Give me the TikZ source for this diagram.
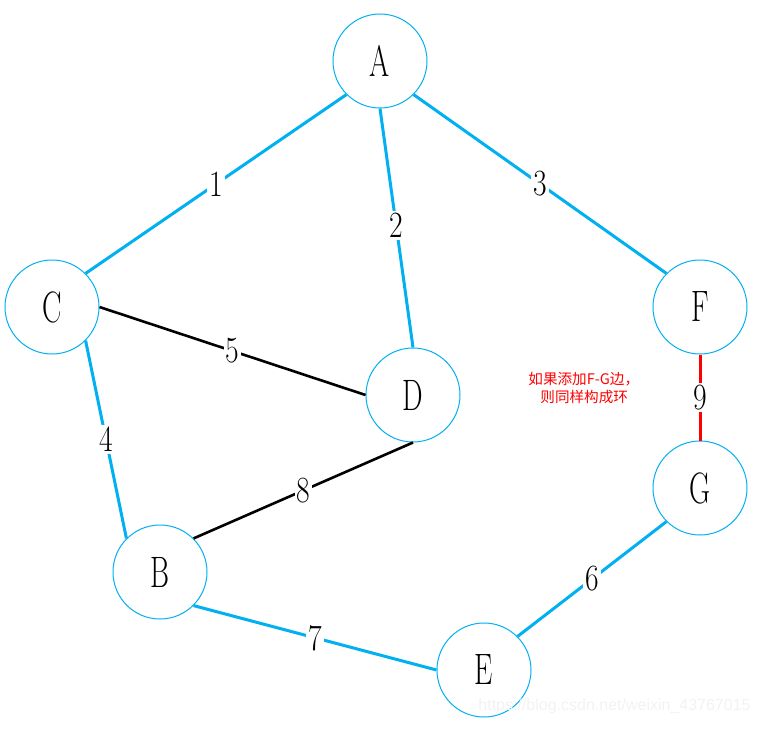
\documentclass[tikz,border=0pt]{standalone}
\usepackage{fontspec}
\usepackage{tikz}
\usepackage{xcolor}
\newfontfamily\cjk{Noto Sans CJK SC}
\newfontfamily\markfont{Liberation Sans}
\definecolor{edgeblue}{RGB}{0,176,240}
\newcommand{\narrow}[1]{\scalebox{0.66}[1]{#1}}
\newcommand{\narrownum}[1]{\scalebox{0.8}[1]{#1}}
\tikzstyle{vertex} = [
    circle, draw=edgeblue, line width=0.5pt, minimum size=47pt, inner sep=0pt,
    fill=white, font=\fontsize{22}{22}\selectfont
]
\tikzstyle{tree-edge} = [edgeblue, line width=1.5pt]
\tikzstyle{other-edge} = [black, line width=1.3pt]
\tikzstyle{loop-edge} = [red, line width=1.5pt]
\tikzstyle{weight} = [fill=white, text=black, inner sep=1pt,
    font=\fontsize{18.5}{18.5}\selectfont]

\begin{document}
\begin{tikzpicture}[x=0.5pt, y=-0.5pt]
            \useasboundingbox (0,0) rectangle (760,728);

            \node (A) [vertex] at (380,61) {\narrow{A}};
            \node (C) [vertex] at (52,307) {\narrow{C}};
            \node (D) [vertex] at (413,395) {\narrow{D}};
            \node (F) [vertex] at (700,307) {\narrow{F}};
            \node (G) [vertex] at (700,488) {\narrow{G}};
            \node (B) [vertex] at (160,572) {\narrow{B}};
            \node (E) [vertex] at (484,670) {\narrow{E}};

            \draw [tree-edge] (A.south west) -- (C.north east)
                            node[weight, pos=0.5] {\narrownum{1}};
            \draw [tree-edge] (A.south) -- (D.north)
                            node[weight, pos=0.49] {\narrownum{2}};
            \draw [tree-edge] (A.south east) -- (F.north west)
                            node[weight, pos=0.5] {\narrownum{3}};
            \draw [tree-edge] (C.south east) -- (B.north west)
                            node[weight, pos=0.5] {\narrownum{4}};
            \draw [other-edge] (C.east) -- (D.west)
                            node[weight, pos=0.5] {\narrownum{5}};
            \draw [tree-edge] (G.south west) -- (E.north east)
                            node[weight, pos=0.5] {\narrownum{6}};
            \draw [tree-edge] (B.south east) -- (E.west)
                            node[weight, pos=0.5] {\narrownum{7}};
            \draw [other-edge] (D.south) -- (B.north east)
                            node[weight, pos=0.5] {\narrownum{8}};
            \draw [loop-edge] (F.south) -- (G.north)
                            node[weight, pos=0.5] {\narrownum{9}};

            \node (note) [anchor=west, align=left, text=red, inner sep=0pt,
                font=\cjk\fontsize{7.3}{9}\selectfont] at (528,388)
                {如果添加F-G边，\\\hspace{6pt}则同样构成环};

            \node (mark) [anchor=east, inner sep=0pt, text=gray!10,
                font=\markfont\fontsize{8}{8}\selectfont] at (751,706)
                {https://blog.csdn.net/weixin\_43767015};
        \end{tikzpicture}
\end{document}
